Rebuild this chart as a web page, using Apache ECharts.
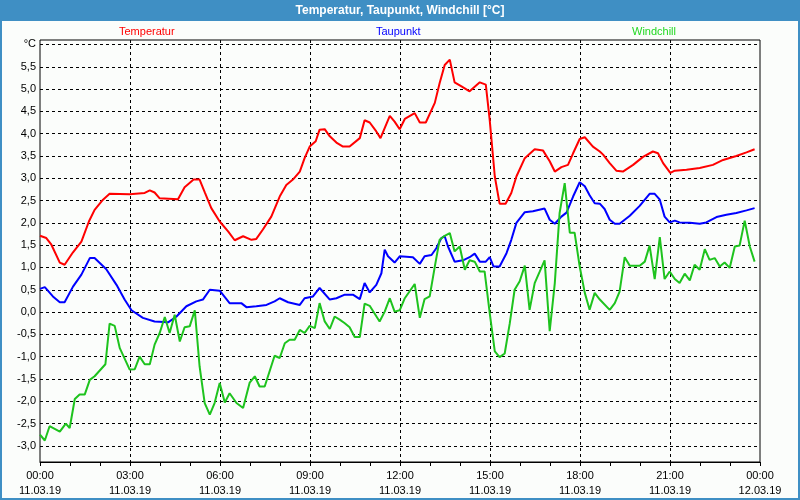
<!DOCTYPE html>
<html>
<head>
<meta charset="utf-8">
<script src="https://cdn.jsdelivr.net/npm/echarts@6/dist/echarts.min.js"></script>
<style>
html,body{margin:0;padding:0;background:#3f8fc4;}
#chart{width:800px;height:500px;}
</style>
</head>
<body>
<div id="chart"></div>
<script>
// Time in hours since 11.03.19 00:00
const tempTime = [0,0.21,0.38,0.66,0.82,1.1,1.38,1.63,1.82,2.1,2.32,2.99,3.49,3.66,3.82,3.99,4.6,4.82,5.12,5.32,5.5,5.71,5.99,6.27,6.49,6.77,7.05,7.21,7.43,7.71,7.99,8.21,8.43,8.66,8.82,8.99,9.19,9.32,9.49,9.66,9.88,10.1,10.32,10.66,10.82,10.99,11.21,11.35,11.66,11.82,11.99,12.16,12.49,12.66,12.86,13.16,13.32,13.49,13.66,13.82,14.05,14.32,14.66,14.86,14.99,15.16,15.32,15.52,15.71,15.88,16.16,16.49,16.77,16.99,17.16,17.38,17.6,17.77,17.99,18.16,18.43,18.66,18.77,18.99,19.21,19.43,19.77,20.1,20.43,20.6,20.77,21.01,21.16,21.55,21.99,22.43,22.77,23.21,23.55,23.82];
const tempValue = [1.71,1.66,1.51,1.11,1.06,1.34,1.58,2.03,2.29,2.52,2.65,2.64,2.67,2.73,2.68,2.55,2.53,2.80,2.97,2.97,2.67,2.33,2.03,1.81,1.61,1.70,1.62,1.64,1.85,2.14,2.59,2.85,2.97,3.15,3.45,3.71,3.83,4.09,4.10,3.94,3.80,3.71,3.71,3.90,4.30,4.25,4.05,3.90,4.40,4.27,4.10,4.33,4.46,4.25,4.25,4.69,5.13,5.54,5.66,5.15,5.06,4.95,5.15,5.10,4.31,3.04,2.43,2.43,2.67,3.04,3.45,3.65,3.62,3.38,3.15,3.25,3.30,3.56,3.88,3.92,3.71,3.60,3.53,3.34,3.17,3.15,3.30,3.48,3.60,3.56,3.34,3.12,3.17,3.19,3.23,3.30,3.41,3.50,3.58,3.65];

const dewTime = [0,0.16,0.43,0.66,0.82,1.1,1.38,1.66,1.82,2.21,2.55,2.82,3.05,3.43,3.82,4.27,4.55,4.88,5.21,5.43,5.66,5.99,6.32,6.71,6.88,7.21,7.55,7.82,7.99,8.27,8.66,8.82,9.1,9.32,9.66,9.88,10.16,10.43,10.66,10.82,10.99,11.21,11.38,11.49,11.6,11.82,11.99,12.43,12.66,12.82,13.05,13.21,13.38,13.49,13.6,13.82,14.1,14.32,14.49,14.66,14.86,14.99,15.12,15.32,15.55,15.71,15.88,16.16,16.43,16.82,16.99,17.16,17.38,17.55,17.77,17.99,18.16,18.32,18.49,18.66,18.82,18.99,19.16,19.32,19.66,19.99,20.32,20.49,20.66,20.82,20.99,21.16,21.32,21.66,21.99,22.21,22.55,22.88,23.21,23.55,23.82];
const dewValue = [0.52,0.56,0.35,0.22,0.22,0.57,0.84,1.21,1.21,0.96,0.61,0.28,0.04,-0.13,-0.21,-0.23,-0.10,0.13,0.24,0.28,0.50,0.48,0.20,0.20,0.11,0.13,0.16,0.24,0.31,0.22,0.16,0.31,0.35,0.54,0.28,0.31,0.39,0.39,0.29,0.65,0.44,0.61,0.87,1.40,1.25,1.11,1.25,1.23,1.08,1.25,1.28,1.43,1.66,1.70,1.47,1.13,1.16,1.23,1.31,1.13,1.13,1.23,1.02,1.02,1.32,1.62,2.00,2.24,2.26,2.32,2.07,1.98,2.14,2.23,2.59,2.91,2.82,2.62,2.44,2.43,2.31,2.07,1.98,1.98,2.16,2.38,2.65,2.65,2.52,2.14,2.01,2.05,2.01,2.00,1.98,2.01,2.13,2.18,2.22,2.28,2.33];

const chillTime = [0,0.16,0.32,0.66,0.86,0.99,1.05,1.16,1.32,1.49,1.66,1.82,2.18,2.32,2.49,2.66,2.99,3.16,3.32,3.49,3.66,3.82,3.99,4.16,4.32,4.49,4.66,4.82,4.99,5.16,5.32,5.49,5.66,5.82,5.99,6.16,6.32,6.55,6.77,6.99,7.16,7.32,7.49,7.82,7.99,8.16,8.32,8.49,8.66,8.82,8.99,9.16,9.32,9.49,9.66,9.82,9.99,10.16,10.32,10.49,10.66,10.82,10.99,11.32,11.49,11.66,11.82,11.99,12.16,12.49,12.66,12.82,12.99,13.16,13.32,13.49,13.66,13.82,13.99,14.16,14.32,14.49,14.66,14.82,14.99,15.16,15.32,15.49,15.66,15.82,15.99,16.16,16.32,16.49,16.66,16.82,16.99,17.16,17.32,17.49,17.66,17.82,17.99,18.16,18.32,18.49,18.66,18.99,19.16,19.32,19.49,19.66,19.99,20.16,20.32,20.49,20.66,20.82,20.99,21.16,21.32,21.49,21.66,21.82,21.99,22.16,22.32,22.49,22.66,22.82,22.99,23.16,23.32,23.49,23.66,23.82];
const chillValue = [-2.75,-2.88,-2.56,-2.68,-2.50,-2.60,-2.56,-1.95,-1.85,-1.85,-1.52,-1.44,-1.17,-0.26,-0.31,-0.81,-1.29,-1.28,-1.00,-1.17,-1.17,-0.73,-0.47,-0.11,-0.47,-0.06,-0.66,-0.34,-0.32,0.04,-1.22,-2.04,-2.30,-2.04,-1.59,-2.03,-1.82,-2.04,-2.15,-1.58,-1.44,-1.67,-1.67,-0.98,-1.03,-0.70,-0.62,-0.62,-0.40,-0.47,-0.31,-0.36,0.20,-0.21,-0.38,-0.10,-0.17,-0.25,-0.34,-0.56,-0.56,0.19,0.14,-0.21,0.01,0.31,0.01,0.04,0.31,0.63,-0.13,0.29,0.35,1.02,1.62,1.71,1.77,1.36,1.47,0.95,1.16,1.13,0.91,0.91,-0.02,-0.88,-1.01,-0.93,-0.25,0.50,0.69,1.04,0.05,0.65,0.91,1.16,-0.43,0.65,2.22,2.89,1.78,1.78,1.02,0.43,0.05,0.43,0.28,0.05,0.20,0.46,1.23,1.04,1.04,1.13,1.49,0.74,1.68,0.74,0.91,0.74,0.65,0.86,0.71,1.06,0.95,1.41,1.17,1.21,1.02,1.11,0.99,1.47,1.49,2.05,1.47,1.13];

const seriesNames = ['Temperatur','Taupunkt','Windchill'];
const xTickHours = [0,3,6,9,12,15,18,21,24];
const xTickTimes = ['00:00','03:00','06:00','09:00','12:00','15:00','18:00','21:00','00:00'];
const xTickDates = ['11.03.19','11.03.19','11.03.19','11.03.19','11.03.19','11.03.19','11.03.19','11.03.19','12.03.19'];

function zip(t, v) { return t.map((x, i) => [x, v[i]]); }

const FONT = 'Liberation Sans';
const lineColors = ['#ff0000', '#0000ff', '#1ec31e'];
const legendColors = ['#ff0000', '#0000ff', '#22d822'];
const legendLeft = [114, 371, 627];

const chart = echarts.init(document.getElementById('chart'), null, {renderer: 'canvas'});

const dashed = {color: '#000', width: 1, type: [3, 3]};

chart.setOption({
  backgroundColor: '#3f8fc4',
  animation: false,
  textStyle: {fontFamily: FONT},
  graphic: [{
    type: 'rect', z: -100, silent: true,
    shape: {x: 2, y: 21, width: 796, height: 477},
    style: {fill: '#fbfdfb'}
  }],
  title: {
    text: 'Temperatur, Taupunkt, Windchill [°C]',
    left: 'center', top: 3, padding: 0,
    textStyle: {color: '#ffffff', fontSize: 12, fontWeight: 'bold', fontFamily: FONT, lineHeight: 15}
  },
  legend: seriesNames.map((n, i) => ({
    data: [n], icon: 'none', itemWidth: 0, itemHeight: 0, itemGap: 0,
    left: legendLeft[i], top: 26, padding: 0, selectedMode: false,
    textStyle: {color: legendColors[i], fontSize: 11, fontFamily: FONT}
  })),
  grid: [
    {left: 40, top: 40, width: 720, height: 428.16, show: false},
    {left: 40, top: 40, width: 720, height: 422, show: true, borderColor: '#000', borderWidth: 1, backgroundColor: 'transparent'}
  ],
  xAxis: [
    {gridIndex: 0, type: 'value', min: 0, max: 24, show: false},
    {
      gridIndex: 1, type: 'value', min: 0, max: 24, interval: 3,
      axisLine: {show: true, onZero: false, lineStyle: {color: '#000', width: 1}},
      axisTick: {show: true, length: 4, lineStyle: {color: '#000'}},
      minorTick: {show: true, splitNumber: 3, length: 4, lineStyle: {color: '#000'}},
      axisLabel: {
        margin: 6, color: '#000', fontSize: 11, fontFamily: FONT, lineHeight: 15,
        showMinLabel: true, showMaxLabel: true,
        formatter: function (v) {
          const i = xTickHours.indexOf(Math.round(v));
          return i >= 0 ? xTickTimes[i] + '\n' + xTickDates[i] : '';
        }
      },
      splitLine: {show: true, showMinLine: false, showMaxLine: false, lineStyle: dashed}
    }
  ],
  yAxis: [
    {
      gridIndex: 0, type: 'value', min: -3.5, max: 6.1, interval: 0.5,
      axisLine: {show: false}, axisTick: {show: false},
      axisLabel: {
        margin: 4, color: '#000', fontSize: 11, fontFamily: FONT,
        showMinLabel: false, showMaxLabel: false,
        formatter: function (v) {
          const r = Math.round(v * 10) / 10;
          if (Math.abs(r - 6) < 1e-6) return '°C';
          if (Math.abs(r * 2 - Math.round(r * 2)) > 1e-6 || r < -3.01) return '';
          return r.toFixed(1).replace('.', ',');
        }
      },
      splitLine: {show: true, showMinLine: false, showMaxLine: false, lineStyle: dashed}
    },
    {gridIndex: 1, type: 'value', min: -3.362, max: 6.1, show: false, splitLine: {show: false}}
  ],
  series: [
    {name: seriesNames[0], type: 'line', xAxisIndex: 1, yAxisIndex: 1, data: zip(tempTime, tempValue), showSymbol: false, symbol: 'none', lineStyle: {color: lineColors[0], width: 2}, itemStyle: {color: lineColors[0]}, z: 4},
    {name: seriesNames[1], type: 'line', xAxisIndex: 1, yAxisIndex: 1, data: zip(dewTime, dewValue), showSymbol: false, symbol: 'none', lineStyle: {color: lineColors[1], width: 2}, itemStyle: {color: lineColors[1]}, z: 3},
    {name: seriesNames[2], type: 'line', xAxisIndex: 1, yAxisIndex: 1, data: zip(chillTime, chillValue), showSymbol: false, symbol: 'none', lineStyle: {color: lineColors[2], width: 2}, itemStyle: {color: lineColors[2]}, z: 5}
  ]
});
</script>
</body>
</html>
